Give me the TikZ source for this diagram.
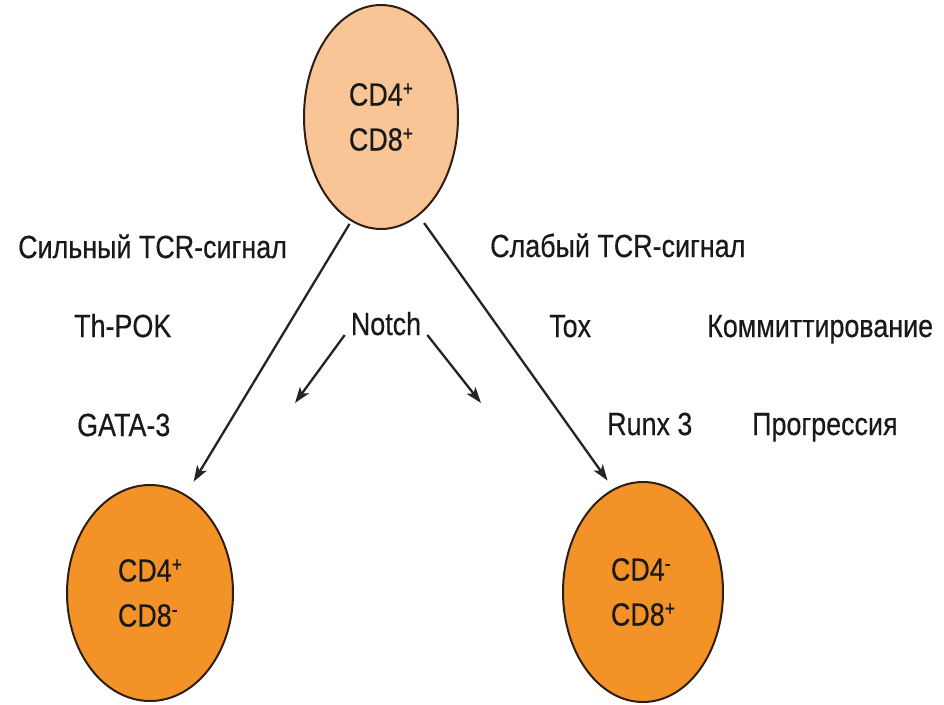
\documentclass[tikz,border=0pt]{standalone}
\usepackage{fontspec}
\setmainfont{Liberation Sans}[FakeStretch=0.84,FakeBold=0.4]
\usetikzlibrary{shapes.geometric,arrows.meta}

\definecolor{cellpale}{RGB}{249,197,150}
\definecolor{celldeep}{RGB}{243,146,38}
\definecolor{cellrim}{RGB}{45,30,22}
\definecolor{inkline}{RGB}{35,35,40}

% raised sign after a marker name
\newcommand{\marksign}[1]{\raisebox{10pt}{\fontsize{21}{21}\selectfont #1}}

\begin{document}
\begin{tikzpicture}[x=1pt,y=-1pt,
  cell/.style={ellipse,draw=cellrim,line width=2pt,inner sep=0pt,
    align=left,font=\fontsize{32}{45}\selectfont,text=black!90},
  label/.style={anchor=base west,inner sep=0pt,
    font=\fontsize{32}{36}\selectfont,text=black!90},
  path/.style={draw=inkline,line width=2.3pt,
    -{Stealth[length=16pt,width=11pt,inset=4pt]}}]

  \useasboundingbox (0,0) rectangle (944,704);

  % thymocytes
  \node[cell,fill=cellpale,minimum width=154pt,minimum height=224pt]
    (dp) at (381,117) {CD4\marksign{+}\\CD8\marksign{+}};
  \node[cell,fill=celldeep,minimum width=166pt,minimum height=216pt]
    (cd4) at (150,593) {CD4\marksign{+}\\CD8\marksign{-}};
  \node[cell,fill=celldeep,minimum width=160pt,minimum height=220pt]
    (cd8) at (643,592) {CD4\marksign{-}\\CD8\marksign{+}};

  % lineage choice
  \draw[path,shorten <=3pt,shorten >=15pt] (dp.254) -- (cd4.70);
  \draw[path,shorten <=9pt,shorten >=10pt] (dp.291) -- (cd8.106);

  % Notch acts on both branches
  \node[label,anchor=base,inner xsep=6pt] (notch) at (386,335) {Notch};
  \coordinate (nleft) at (295,403);
  \coordinate (nright) at (481,403);
  \draw[path] (notch.base west) -- (nleft);
  \draw[path] (notch.base east) -- (nright);

  % factors and stages
  \node[label] (strong) at (18,258) {Сильный TCR-сигнал};
  \node[label] (weak) at (490,257) {Слабый TCR-сигнал};
  \node[label] (thpok) at (74,337) {Th-POK};
  \node[label] (tox) at (549,337) {Tox};
  \node[label] (commit) at (707,337) {Коммиттирование};
  \node[label] (gata) at (77,436) {GATA-3};
  \node[label] (runx) at (607,435) {Runx 3};
  \node[label] (progr) at (752,435) {Прогрессия};
\end{tikzpicture}
\end{document}
